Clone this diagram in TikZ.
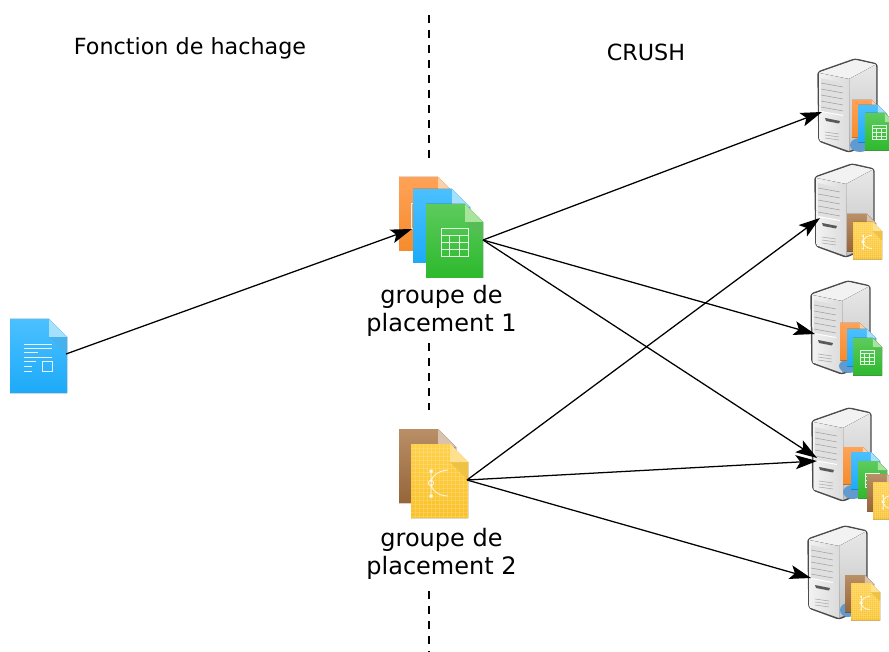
\documentclass[tikz,border=0pt]{standalone}
\usepackage{fontspec}
\setmainfont{DejaVu Sans}
\usetikzlibrary{arrows.meta}
\definecolor{orangeA}{HTML}{FFA257}
\definecolor{orangeB}{HTML}{F58B2C}
\definecolor{orangeC}{HTML}{FFCFA6}
\definecolor{blueA}{HTML}{4BC0FF}
\definecolor{blueB}{HTML}{1DAAF8}
\definecolor{blueC}{HTML}{A5E0FF}
\definecolor{greenA}{HTML}{5CCB5C}
\definecolor{greenB}{HTML}{2DB92D}
\definecolor{greenC}{HTML}{A8E49C}
\definecolor{brownA}{HTML}{B98F66}
\definecolor{brownB}{HTML}{96653A}
\definecolor{brownC}{HTML}{D9C3AE}
\definecolor{yellowA}{HTML}{FFD04A}
\definecolor{yellowB}{HTML}{FAC22A}
\definecolor{yellowC}{HTML}{FFE08E}
\definecolor{disque}{HTML}{5F9BD0}
\tikzset{
  pics/docfile/.style n args={3}{code={
    \fill[top color=#1, bottom color=#2] (0,0)--(39,0)--(57,18)--(57,74)--(0,74)--cycle;
    \fill[#1!93!black] (39,18)--(57,18)--(57,36)--cycle;
    \fill[#3] (39,0)--(57,18)--(39,18)--cycle;
  }},
  pics/textglyph/.style={code={
    \draw[white,opacity=.9,line width=.6pt] (14,25)--(42,25) (14,29)--(42,29) (14,33)--(28,33) (14,38)--(42,38)
      (14,42)--(26,42) (14,47)--(22,47) (14,52)--(22,52);
    \draw[white,opacity=.9,line width=.6pt] (32,42) rectangle (42,52);
  }},
  pics/tableglyph/.style={code={
    \draw[white,opacity=.85,line width=.6pt] (15,24) rectangle (42,52) (15,31)--(42,31) (15,38)--(42,38) (15,45)--(42,45)
      (23,31)--(23,52) (33,31)--(33,52);
  }},
  pics/curveglyph/.style={code={
    \foreach \x in {4,8,...,56} {\draw[white,opacity=.16,line width=.3pt] (\x,0)--(\x,74);}
    \foreach \y in {4,8,...,72} {\draw[white,opacity=.16,line width=.3pt] (0,\y)--(57,\y);}
    \fill[yellowA!93!black] (39,18)--(57,18)--(57,36)--cycle;
    \fill[yellowC] (39,0)--(57,18)--(39,18)--cycle;
    \draw[white,opacity=.9,line width=.6pt] (20,27)--(20,52) (37,26) .. controls (27,27) and (20,32) .. (20,39)
      .. controls (20,46) and (27,52) .. (37,52);
    \draw[white,opacity=.9,line width=.6pt] (20,39) circle (2.6);
    \fill[white] (18.5,25.5) rectangle (21.5,28.5) (18.5,50.5) rectangle (21.5,53.5);
  }},
  pics/serverbox/.style={code={
    \draw[line width=1.1pt,line join=round,draw=black!70,fill=black!10,rounded corners=2pt]
      (0,13)--(37,0)--(59,5)--(59,81)--(31,93)--(1,82)--cycle;
    \fill[black!5] (1,13.5)--(37,1)--(58,5.5)--(31,20)--cycle;
    \fill[top color=black!9,bottom color=black!24] (31,20)--(58,5.5)--(58,80)--(31,92)--cycle;
    \fill[left color=black!5,right color=black!14] (1,14)--(31,20)--(31,92)--(1.5,81.5)--cycle;
    \fill[black!12] (3,19)--(25,24)--(25,56)--(3,52)--cycle;
    \foreach \v in {26,32,38,44,50} {\draw[black!38,line width=.4pt] (3,\v-2)--(25,\v+2);}
    \draw[white,line width=.7pt] (3,52.5)--(25,56.5);
    \fill[black!65] (7,59)--(22,62)--(21,64.5)--(8,62)--cycle;
    \foreach \v in {73,76,79} {\draw[black!35,line width=.4pt] (7,\v)--(21,\v+2);}
  }},
  fleche/.style={-{Stealth[length=16pt,width=10.5pt,inset=3.5pt]},line width=.95pt},
  coupure/.style={line width=.95pt,dash pattern=on 6pt off 5.25pt},
  titre/.style={font=\fontsize{16.7pt}{20pt}\selectfont},
  groupe/.style={font=\fontsize{18pt}{21.4pt}\selectfont,align=center,inner sep=0}
}
\begin{document}
\begin{tikzpicture}[x=.75pt,y=-.75pt]
\useasboundingbox (0,0) rectangle (889,652);
\clip (0,0) rectangle (889,652);

\coordinate (coupA) at (429,15);
\coordinate (coupB) at (429,163);
\coordinate (coupC) at (429,343);
\coordinate (coupD) at (429,410);
\coordinate (coupE) at (429,591);
\coordinate (coupF) at (429,652);
\draw[coupure] (coupA)--(coupB);
\draw[coupure] (coupC)--(coupD);
\draw[coupure] (coupE)--(coupF);

\node[titre] (hachage) at (190,48) {Fonction de hachage};
\node[titre] (crush) at (646,52) {CRUSH};
\node[groupe] (labelA) at (441.5,311) {groupe de\\placement 1};
\node[groupe] (labelB) at (441.5,554) {groupe de\\placement 2};

% fichier
\pic at (10,319) {docfile={blueA}{blueB}{blueC}};
\pic at (10,319) {textglyph};

% groupes
\pic at (399,177) {docfile={orangeA}{orangeB}{orangeC}};
\draw[white,opacity=.8,line width=.6pt] (411,203) rectangle (430,228);
\pic at (413,189) {docfile={blueA}{blueB}{blueC}};
\pic at (426,204) {docfile={greenA}{greenB}{greenC}};
\pic at (426,204) {tableglyph};
\pic at (399,429) {docfile={brownA}{brownB}{brownC}};
\pic at (411,444) {docfile={yellowA}{yellowB}{yellowC}};
\pic at (411,444) {curveglyph};

% serveurs
\pic at (818,59) {serverbox};
\pic at (815,164) {serverbox};
\pic at (811,281) {serverbox};
\pic at (812,408) {serverbox};
\pic at (808,526) {serverbox};

\fill[disque] (860,145) ellipse (10 and 7);
\pic[scale=.51] at (852,100) {docfile={orangeA}{orangeB}{orangeC}};
\pic[scale=.51] at (858,105) {docfile={blueA}{blueB}{blueC}};
\pic[scale=.51] at (865,113) {docfile={greenA}{greenB}{greenC}};
\pic[scale=.51] at (865,113) {tableglyph};

\pic[scale=.51] at (847,214) {docfile={brownA}{brownB}{brownC}};
\pic[scale=.51] at (853,222) {docfile={yellowA}{yellowB}{yellowC}};
\pic[scale=.51] at (853,222) {curveglyph};

\fill[disque] (849,366) ellipse (10 and 7);
\pic[scale=.51] at (840,323) {docfile={orangeA}{orangeB}{orangeC}};
\pic[scale=.51] at (847,329) {docfile={blueA}{blueB}{blueC}};
\pic[scale=.51] at (853,338) {docfile={greenA}{greenB}{greenC}};
\pic[scale=.51] at (853,338) {tableglyph};

\fill[disque] (853,492) ellipse (10 and 7);
\pic[scale=.51] at (843,447) {docfile={orangeA}{orangeB}{orangeC}};
\pic[scale=.51] at (851,452) {docfile={blueA}{blueB}{blueC}};
\pic[scale=.51] at (858,461) {docfile={greenA}{greenB}{greenC}};
\pic[scale=.51] at (858,461) {tableglyph};
\pic[scale=.51] at (867,474) {docfile={brownA}{brownB}{brownC}};
\pic[scale=.51] at (873,482) {docfile={yellowA}{yellowB}{yellowC}};
\pic[scale=.51] at (873,482) {curveglyph};

\fill[disque] (848,610) ellipse (8 and 7);
\pic[scale=.51] at (845,575) {docfile={brownA}{brownB}{brownC}};
\pic[scale=.51] at (851,583) {docfile={yellowA}{yellowB}{yellowC}};
\pic[scale=.51] at (851,583) {curveglyph};

\coordinate (fichier) at (66,354);
\coordinate (groupA) at (483,240);
\coordinate (groupB) at (467,480);
\coordinate (entreeA) at (412,229);
\coordinate (srvA) at (822,112);
\coordinate (srvB) at (820,218);
\coordinate (srvC) at (815,334);
\coordinate (srvDa) at (817,458);
\coordinate (srvDb) at (817,461);
\coordinate (srvE) at (811,578);

\draw[fleche] (fichier)--(entreeA);
\foreach \s in {srvA,srvC,srvDa} {
  \draw[fleche] (groupA)--(\s);
}
\foreach \s in {srvB,srvDb,srvE} {
  \draw[fleche] (groupB)--(\s);
}
\end{tikzpicture}
\end{document}
